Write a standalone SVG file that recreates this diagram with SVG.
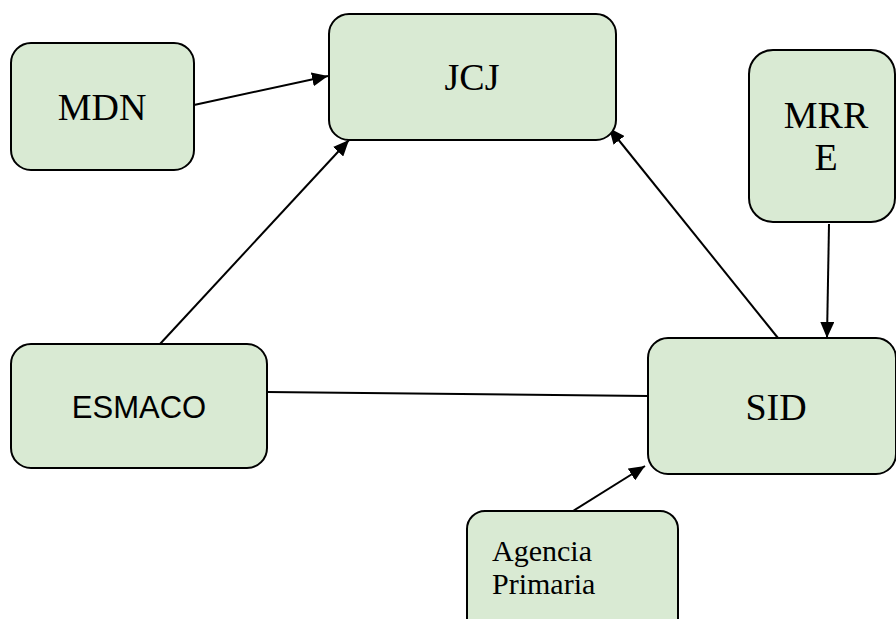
<svg xmlns="http://www.w3.org/2000/svg" width="896" height="619" viewBox="0 0 896 619">
<style>
.box{fill:#d9ead3;stroke:#000;stroke-width:2}
.serif{font-family:"Liberation Serif","Times New Roman",serif;fill:#000}
.sans{font-family:"Liberation Sans",Arial,sans-serif;fill:#000}
.edge{stroke:#000;stroke-width:2;fill:none}
</style>
<defs>
<marker id="ah" viewBox="0 0 16 14" refX="16" refY="7" markerWidth="16" markerHeight="14" orient="auto" markerUnits="userSpaceOnUse">
<path d="M0,0 L16,7 L0,14 z" fill="#000"/>
</marker>
</defs>
<rect width="896" height="619" fill="#fff"/>
<g id="connectors">
<line class="edge" x1="194" y1="105" x2="328" y2="76" marker-end="url(#ah)"/>
<line class="edge" x1="160" y1="344" x2="349" y2="140" marker-end="url(#ah)"/>
<line class="edge" x1="778" y1="338" x2="609" y2="128" marker-end="url(#ah)"/>
<line class="edge" x1="829" y1="224" x2="827" y2="338" marker-end="url(#ah)"/>
<line class="edge" x1="267" y1="392" x2="648" y2="396"/>
<line class="edge" x1="573" y1="511" x2="645" y2="466" marker-end="url(#ah)"/>
</g>
<g id="MDN">
<rect class="box" x="11" y="43" width="183" height="127" rx="20"/>
<text class="serif" x="102" y="120" font-size="38" text-anchor="middle">MDN</text>
</g>
<g id="JCJ">
<rect class="box" x="329" y="14" width="287" height="126" rx="20"/>
<text class="serif" x="472" y="90" font-size="38" text-anchor="middle">JCJ</text>
</g>
<g id="MRRE">
<rect class="box" x="749" y="50" width="146" height="172" rx="24"/>
<text class="serif" x="826" y="128" font-size="38" text-anchor="middle">MRR</text>
<text class="serif" x="826" y="170" font-size="38" text-anchor="middle">E</text>
</g>
<g id="ESMACO">
<rect class="box" x="11" y="344" width="256" height="124" rx="20"/>
<text class="sans" x="139" y="418" font-size="31" text-anchor="middle">ESMACO</text>
</g>
<g id="SID">
<rect class="box" x="648" y="338" width="248" height="136" rx="20"/>
<text class="serif" x="776" y="420" font-size="38" text-anchor="middle">SID</text>
</g>
<g id="AgenciaPrimaria">
<rect class="box" x="467" y="511" width="211" height="125" rx="18"/>
<text class="serif" x="492" y="561" font-size="30">Agencia</text>
<text class="serif" x="492" y="594" font-size="30">Primaria</text>
</g>
</svg>
